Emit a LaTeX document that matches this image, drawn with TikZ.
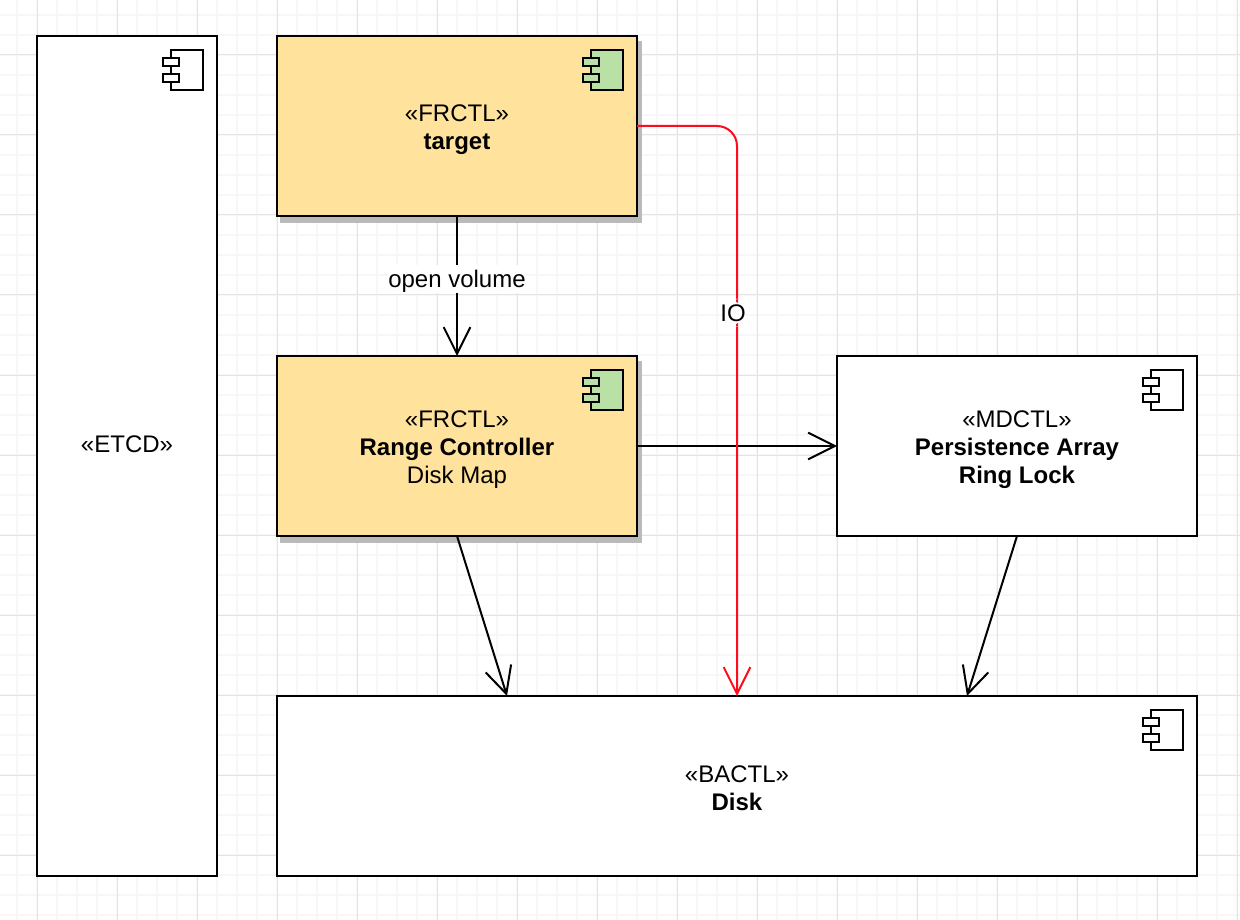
\documentclass[tikz,border=0pt]{standalone}
\usepackage{fontspec}
\setmainfont{Liberation Sans}
\usetikzlibrary{arrows.meta, positioning, calc, shadows}
\definecolor{boxfill}{HTML}{FFE29C}
\definecolor{iconfill}{HTML}{B9E0A5}
\definecolor{iored}{HTML}{FF0A1E}
\definecolor{gridmajor}{HTML}{E4E4E4}
\definecolor{gridminor}{HTML}{F7F7F7}
\newcommand{\stereo}[1]{\rule{0pt}{17.5pt}«#1»}
\tikzset{
  pics/compicon/.style={code={
    \draw[line width=1.5pt, fill=#1] (-46,14) rectangle (-14,54);
    \draw[line width=1.5pt, fill=#1] (-54,22) rectangle (-38,30);
    \draw[line width=1.5pt, fill=#1] (-54,38) rectangle (-38,46);
  }},
  pics/compicon/.default=white
}

\begin{document}
\begin{tikzpicture}[x=0.75pt, y=-0.75pt,
    strutted/.style 2 args={font=\fontsize{18}{21}\selectfont, execute at begin node={\rule{0pt}{#1}}, execute at end node={\rule[-#2]{0pt}{#2}}},
    comp/.style={rectangle, draw, line width=1.5pt, outer sep=0pt, fill=white, align=center, strutted={0pt}{2.5pt}},
    frctl/.style={comp, fill=boxfill, general shadow={shadow xshift=3pt, shadow yshift=-4.3pt, fill=black!27, draw=black!27}},
    wide/.style={minimum width=270pt, minimum height=135pt},
    flow/.style={->, line width=1.5pt},
    lbl/.style={fill=white, inner sep=0pt, strutted={17pt}{4pt}},
    >={Straight Barb[length=20pt, width=20pt]}]
    \useasboundingbox (0,0) rectangle (1240,920);
    \fill[white] (0,0) rectangle (1240,920);
    % grid
    \foreach \x in {17,37,...,1237} \draw[gridminor, line width=1.5pt] (\x,0) -- (\x,920);
    \foreach \y in {15,35,...,915} \draw[gridminor, line width=1.5pt] (0,\y) -- (1240,\y);
    \foreach \x in {37,117,...,1237} \draw[gridmajor, line width=0.75pt] (\x,0) -- (\x,920);
    \foreach \y in {55,135,...,855} \draw[gridmajor, line width=0.75pt] (0,\y) -- (1240,\y);

    \node[frctl, wide, anchor=north west] (target) at (277,36) {\stereo{FRCTL}\\\textbf{target}};
    \node[frctl, wide, below=105pt of target] (range) {\stereo{FRCTL}\\\textbf{Range Controller}\\Disk Map};
    \node[comp, wide, right=150pt of range] (persist) {\stereo{MDCTL}\\\textbf{Persistence Array}\\\textbf{Ring Lock}};
    \node[comp, minimum width=690pt, minimum height=135pt, below=120pt of range.south west, anchor=north west] (disk) {\stereo{BACTL}\\\textbf{Disk}};
    \node[comp, minimum width=135pt, minimum height=630pt, left=45pt of target.north west, anchor=north east] (etcd) {\stereo{ETCD}\\\mbox{}};

    \path (etcd.north east) pic {compicon};
    \path (target.north east) pic {compicon=iconfill};
    \path (range.north east) pic {compicon=iconfill};
    \path (persist.north east) pic {compicon};
    \path (disk.north east) pic {compicon};

    \coordinate (diskleft) at ($(disk.north west)!.25!(disk.north east)$);
    \coordinate (diskright) at ($(disk.north west)!.75!(disk.north east)$);

    \draw[flow] (target) -- node[lbl, pos=0.45] {open volume} (range);
    \draw[flow] (range) -- (persist);
    \draw[flow] (range.south) -- (diskleft);
    \draw[flow] (persist.south) -- (diskright);
    \draw[flow, iored, rounded corners=15pt] (target.east) -| node[lbl, text=black, pos=0.664, xshift=-3pt] {IO} (disk.north);
\end{tikzpicture}
\end{document}
